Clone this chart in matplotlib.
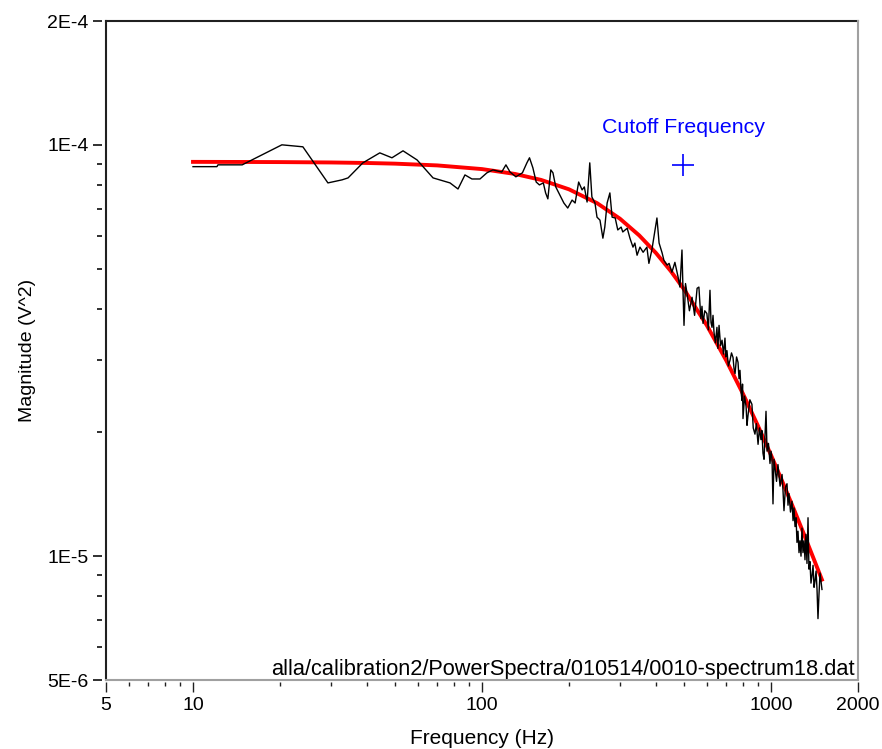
import matplotlib
matplotlib.use("Agg")
import matplotlib.pyplot as plt
from matplotlib.lines import Line2D
from matplotlib.ticker import FixedLocator, FixedFormatter, NullFormatter

plt.rcParams["font.family"] = ["Liberation Sans", "DejaVu Sans"]

# Lorentzian fit of the power spectrum (magnitude in units of 1E-5 V^2)
fit_freq = [10, 15, 20, 30, 40, 50, 70, 100, 130, 160, 200, 250, 300, 350,
            400, 450, 500, 600, 700, 800, 900, 1000, 1100, 1200, 1300, 1400, 1500]
fit_mag_e5 = [9.090, 9.085, 9.079, 9.060, 9.034, 9.000, 8.912, 8.730, 8.496,
              8.218, 7.795, 7.216, 6.615, 6.022, 5.457, 4.933, 4.455, 3.638,
              2.991, 2.481, 2.079, 1.761, 1.506, 1.300, 1.131, 0.992, 0.877]

# Measured power spectrum (magnitude in units of 1E-5 V^2)
spec_freq = [10, 12.1, 12.2, 14.8, 20.3, 24.0, 29.3, 32.8, 34.4, 38.7, 44.3,
             48.8, 53.3, 59.6, 67.7, 77.5, 82.6, 87.3, 92.3, 98.4, 104, 109,
             117, 121, 125, 131, 138, 143, 146, 150, 154, 158, 163, 166, 169,
             173, 176, 180, 186, 192, 198, 205, 210, 216, 222, 226, 231, 236,
             240, 246, 250, 256, 262, 266, 271, 277, 282, 289, 295, 303, 307,
             318, 325, 333, 338, 344, 352, 361, 372, 378, 387, 397, 403, 410,
             420, 426, 437, 444, 454, 465, 477, 484, 492, 496,
             500, 506, 512, 522, 533, 544, 555, 563, 572, 577, 582, 590, 600,
             607, 615, 620, 625, 630, 635, 642, 650, 655, 661, 669, 677, 685,
             693, 698, 704, 712,
             721, 730, 739, 745, 751, 760, 769, 775, 781, 788, 794, 797, 800,
             810, 820, 826, 832, 845, 859, 868, 880, 890, 902, 912, 923, 930,
             938, 946, 953, 961, 969, 980, 992, 1000, 1008, 1016, 1024, 1032,
             1045, 1057, 1075, 1092, 1100, 1109, 1122, 1136, 1145, 1154, 1168,
             1182, 1192, 1201, 1211, 1221, 1230, 1240, 1250, 1260, 1270, 1280,
             1290, 1301, 1311, 1321, 1332, 1343, 1353, 1364, 1375, 1387, 1398,
             1409, 1420, 1432, 1443, 1454, 1466, 1478, 1489, 1501]
spec_mag_e5 = [8.85, 8.85, 8.94, 8.94, 10.0, 9.89, 8.08, 8.22, 8.31, 9.04, 9.56,
               9.30, 9.67, 9.19, 8.31, 8.08, 7.81, 8.45, 8.26, 8.26, 8.55, 8.69,
               8.59, 8.94, 8.59, 8.36, 8.55, 9.04, 9.30, 8.79, 8.12, 7.99, 8.08,
               7.64, 7.39, 8.69, 8.55, 7.90, 7.55, 7.22, 7.02, 7.34, 7.22, 8.12,
               7.77, 7.90, 7.26, 9.04, 7.47, 7.22, 6.67, 6.56, 5.93, 6.31, 7.22,
               7.64, 6.67, 6.64, 6.21, 6.31, 6.14, 6.27, 5.93, 5.64, 5.77, 5.39,
               5.64, 5.48, 5.64, 5.15, 5.55, 6.21, 6.64, 5.77, 5.46, 5.24, 5.10,
               5.15, 4.90, 5.18, 4.77, 4.51, 5.55, 4.43,
               3.64, 4.60, 4.36, 3.95, 4.26, 3.85, 4.48, 4.51, 3.78, 4.05, 3.68,
               3.95, 3.89, 3.55, 4.43, 3.70, 3.60, 3.85, 3.50, 3.30, 3.60, 3.20,
               3.64, 3.25, 3.35, 3.10, 3.39, 3.05, 3.16, 2.90,
               2.99, 3.12, 3.04, 2.85, 2.78, 3.05, 2.96, 2.70, 2.83, 2.50, 2.39,
               2.62, 2.16, 2.45, 2.31, 2.08, 2.19, 2.40, 2.34, 2.05, 1.98, 2.10,
               1.87, 2.05, 1.92, 2.02, 1.78, 1.72, 1.95, 2.25, 1.80, 1.88, 1.68,
               1.80, 1.73, 1.34, 1.72, 1.64, 1.52, 1.67, 1.48, 1.58, 1.45, 1.29,
               1.47, 1.50, 1.33, 1.42, 1.28, 1.36, 1.22, 1.31, 1.18, 1.24, 1.08,
               1.15, 1.02, 1.09, 1.00, 1.17, 1.02, 1.09, 0.98, 1.13, 0.96, 1.24,
               0.93, 0.97, 0.86, 0.90, 0.95, 0.84, 0.87, 0.92, 0.83, 0.705, 0.81,
               0.91, 0.87, 0.83]

cutoff_freq = 496
cutoff_mag = 8.94e-5

x_ticks = [5, 10, 100, 1000, 2000]
x_tick_labels = ["5", "10", "100", "1000", "2000"]
y_ticks = [5e-6, 1e-5, 1e-4, 2e-4]
y_tick_labels = ["5E-6", "1E-5", "1E-4", "2E-4"]
x_minor = [6, 7, 8, 9, 20, 30, 40, 50, 60, 70, 80, 90,
           200, 300, 400, 500, 600, 700, 800, 900]
y_minor = [6e-6, 7e-6, 8e-6, 9e-6, 2e-5, 3e-5, 4e-5, 5e-5, 6e-5, 7e-5, 8e-5, 9e-5]

data_file = "alla/calibration2/PowerSpectra/010514/0010-spectrum18.dat"

W, H = 882, 749
fig = plt.figure(figsize=(W / 100, H / 100), dpi=100)
ax = fig.add_axes([106 / W, (H - 680) / H, (858 - 106) / W, (680 - 21) / H])
ax.set_xscale("log")
ax.set_yscale("log")
ax.set_xlim(5, 2000)
ax.set_ylim(5e-6, 2e-4)

fit_mag = [v * 1e-5 for v in fit_mag_e5]
spec_mag = [v * 1e-5 for v in spec_mag_e5]

ax.plot(fit_freq, fit_mag, color="#ff0000", lw=2.8, zorder=2)
ax.plot(spec_freq, spec_mag, color="black", lw=1.0, zorder=3)
ax.plot([cutoff_freq], [cutoff_mag], marker="+", ms=16, mew=1.2,
        color="#0000ff", ls="none", zorder=4)
ax.annotate("Cutoff Frequency", xy=(cutoff_freq, cutoff_mag),
            xytext=(0, 32), textcoords="offset pixels",
            ha="center", va="baseline", color="#0000ff", fontsize=15.3)
ax.annotate(data_file, xy=(1, 0), xycoords="axes fraction",
            xytext=(-3, 5), textcoords="offset pixels",
            ha="right", va="baseline", color="black", fontsize=15.7)

# ticks
ax.xaxis.set_major_locator(FixedLocator(x_ticks))
ax.xaxis.set_major_formatter(FixedFormatter(x_tick_labels))
ax.xaxis.set_minor_locator(FixedLocator(x_minor))
ax.xaxis.set_minor_formatter(NullFormatter())
ax.yaxis.set_major_locator(FixedLocator(y_ticks))
ax.yaxis.set_major_formatter(FixedFormatter(y_tick_labels))
ax.yaxis.set_minor_locator(FixedLocator(y_minor))
ax.yaxis.set_minor_formatter(NullFormatter())

ax.tick_params(axis="y", which="major", length=6.5, width=1.3, pad=3,
               labelsize=14, color="#202020")
ax.tick_params(axis="y", which="minor", length=3.6, width=1.3, color="#202020")
ax.tick_params(axis="x", which="major", length=7.2, width=1.0, pad=4,
               labelsize=14, color="#202020")
ax.tick_params(axis="x", which="minor", length=3.0, width=1.0, color="#202020")

# frame: ticks sit slightly away from the border lines
ax.spines["left"].set_position(("outward", 2.9))
ax.spines["bottom"].set_position(("outward", 1.2))
for s in ax.spines.values():
    s.set_visible(False)
border = [([0, 0], [0, 1], "#202020"), ([0, 1], [1, 1], "#202020"),
          ([0, 1], [0, 0], "#a0a0a0"), ([1, 1], [0, 1], "#a0a0a0")]
for xs, ys, c in border:
    ax.add_line(Line2D(xs, ys, transform=ax.transAxes, color=c, lw=1.5,
                       clip_on=False, zorder=5))

ax.set_xlabel("Frequency (Hz)", fontsize=15, labelpad=11)
ax.set_ylabel("Magnitude (V^2)", fontsize=14, labelpad=8.5)

fig.savefig("out.png", dpi=100, facecolor="white")
